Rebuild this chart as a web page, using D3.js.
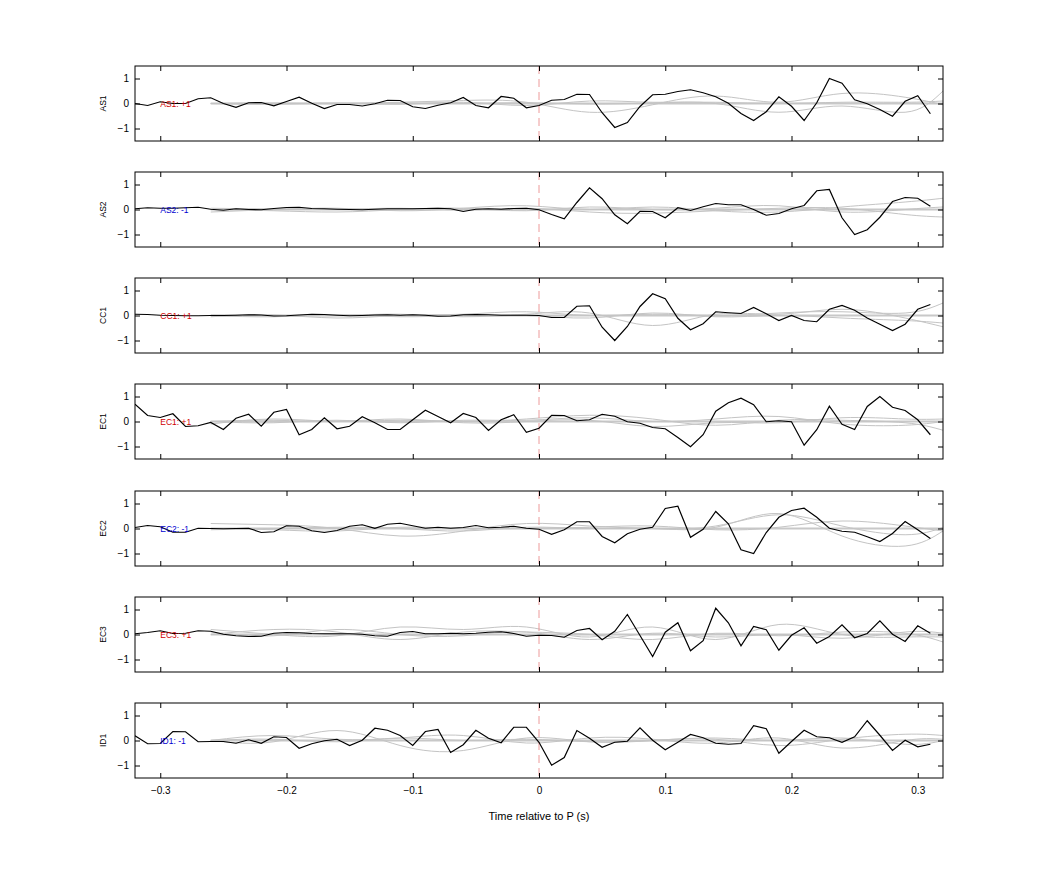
<!DOCTYPE html>
<html><head><meta charset="utf-8">
<script src="https://cdn.jsdelivr.net/npm/d3@7"></script>
<style>body{margin:0;background:#fff}svg text{font-family:"Liberation Sans",Arial,sans-serif}</style>
</head><body><svg id="c" width="1042" height="875"></svg>
<script>
const channels = ["AS1","AS2","CC1","EC1","EC2","EC3","ID1"];
const polarity = ["+1","-1","+1","+1","-1","+1","-1"];
const times = d3.range(64).map(i => +(-0.32 + i*0.01).toFixed(2));
const AS1 = [0,-0.08,0.07,0,0,0.19,0.23,0,-0.15,0.03,0.04,-0.09,0.08,0.25,0.01,-0.2,-0.04,-0.04,-0.1,-0.01,0.13,0.12,-0.13,-0.2,-0.07,0.03,0.24,-0.08,-0.17,0.28,0.21,-0.17,-0.08,0.13,0.16,0.37,0.36,-0.37,-0.96,-0.76,-0.12,0.35,0.37,0.48,0.55,0.43,0.27,0.01,-0.4,-0.68,-0.33,0.27,-0.11,-0.68,0.03,1.0,0.81,0.15,-0.01,-0.24,-0.51,0.09,0.31,-0.41];
const AS2 = [0.03,0.07,0.05,0.05,0.07,0.09,0.01,-0.03,0.03,0,-0.01,0.04,0.08,0.09,0.04,0.03,0.01,0,-0.01,0.01,0.03,0.03,0.03,0.04,0.05,0.03,-0.08,0.01,0.03,0.01,0.04,0.05,-0.01,-0.2,-0.37,0.28,0.87,0.43,-0.21,-0.57,-0.07,-0.08,-0.33,0.07,-0.04,0.11,0.24,0.19,0.19,0,-0.23,-0.16,0.03,0.16,0.75,0.8,-0.33,-1.0,-0.81,-0.31,0.32,0.48,0.45,0.13];
const CC1 = [0.05,0.04,0.01,0,-0.01,-0.01,0,0,0.01,0.03,0.02,-0.02,-0.01,0.02,0.05,0.04,0.01,-0.01,0,0.02,0.03,0.01,0.03,0.01,-0.03,-0.02,0.03,0.04,0.03,0.01,0.01,0.01,0,-0.08,-0.08,0.37,0.39,-0.47,-1.0,-0.44,0.36,0.87,0.67,-0.11,-0.57,-0.33,0.15,0.11,0.08,0.32,0.07,-0.2,0,-0.2,-0.25,0.25,0.4,0.21,-0.1,-0.35,-0.6,-0.35,0.25,0.44];
const EC1 = [0.69,0.24,0.16,0.31,-0.2,-0.17,-0.04,-0.32,0.13,0.29,-0.19,0.37,0.48,-0.53,-0.32,0.15,-0.29,-0.19,0.19,-0.05,-0.32,-0.32,0.07,0.45,0.2,-0.05,0.32,0.16,-0.36,0.07,0.27,-0.43,-0.27,0.25,0.24,0.03,0.07,0.29,0.21,-0.01,-0.07,-0.24,-0.29,-0.64,-1.01,-0.53,0.41,0.75,0.93,0.67,-0.01,0.03,-0.01,-0.95,-0.33,0.61,-0.11,-0.32,0.6,1.0,0.57,0.44,0.07,-0.53];
const EC2 = [0.04,0.12,0.07,-0.15,-0.15,0.01,0,-0.01,0,0.01,-0.16,-0.13,0.11,0.09,-0.09,-0.16,-0.08,0.09,0.15,0.01,0.17,0.21,0.11,0.01,0.05,0.01,0.04,0.12,0.03,0.05,0.09,0.01,-0.03,-0.23,-0.05,0.27,0.27,-0.32,-0.57,-0.21,-0.03,0.05,0.8,0.89,-0.35,-0.03,0.68,0.19,-0.85,-1.0,-0.16,0.45,0.72,0.81,0.45,0.01,-0.11,-0.15,-0.33,-0.52,-0.2,0.28,-0.05,-0.4];
const EC3 = [0.03,0.08,0.15,0.04,0.05,0.15,0.13,0.01,-0.05,-0.08,-0.07,0.05,0.08,0.07,0.04,0.03,0.03,0.03,0.01,-0.05,-0.07,0.08,0.12,0.03,0.03,0.05,0.03,0.05,0.09,0.11,0.04,-0.07,-0.03,-0.04,-0.11,0.16,0.24,-0.21,0.13,0.8,-0.04,-0.88,0.09,0.47,-0.65,-0.25,1.05,0.47,-0.45,0.32,0.19,-0.63,-0.03,0.27,-0.35,-0.08,0.39,-0.13,0.04,0.55,0.01,-0.28,0.35,0.05];
const ID1 = [0.19,-0.13,-0.12,0.36,0.35,-0.05,-0.04,-0.04,-0.11,0.03,-0.11,0.15,0.12,-0.31,-0.13,-0.01,0.05,-0.2,0.01,0.49,0.41,0.2,-0.2,0.36,0.44,-0.48,-0.17,0.41,0.09,-0.09,0.53,0.53,-0.07,-0.99,-0.68,0.4,0.09,-0.27,-0.07,-0.03,0.51,0.01,-0.37,-0.07,0.24,0.11,-0.11,-0.15,-0.12,0.59,0.47,-0.51,-0.04,0.41,0.15,0.11,-0.07,0.15,0.79,0.21,-0.4,0.01,-0.25,-0.15];
const traces = [AS1,AS2,CC1,EC1,EC2,EC3,ID1];
// faint grey reference curves, sampled every 0.05 s from -0.26 to 0.32
const greyTimes = [-0.26,-0.21,-0.16,-0.11,-0.06,-0.01,0.04,0.09,0.14,0.19,0.24,0.29,0.32];
const greys = [
 [[0,0.02,0,0.05,0.12,0.05,-0.35,-0.05,0.3,0.05,0.4,0.25,-0.05],[0,-0.03,0.02,-0.03,0.05,-0.08,0.1,0.05,0,-0.35,-0.1,-0.35,0.5],[0,0,-0.01,0.02,0,0.03,-0.02,0.02,0.05,0,0.05,0.05,0.1]],
 [[-0.1,0,0.05,-0.05,0.05,0.15,0,0.1,-0.05,-0.1,0.1,0.3,0.45],[0,-0.05,-0.1,0,0.05,-0.05,0.1,0,0.05,0.15,-0.1,0,0.1],[0.05,0.02,0,0.05,-0.02,0.05,-0.1,-0.15,-0.05,0.05,0.05,-0.2,-0.3]],
 [[-0.05,0.02,-0.1,0,0.05,0.15,0,0.05,0,0.1,0.15,0.1,0.5],[0,-0.05,0.03,-0.05,0,0.05,0.1,-0.4,0.05,0.05,0.25,-0.1,-0.45],[0.02,0,0,0.05,-0.05,0,-0.1,0.1,-0.05,0,-0.1,-0.2,-0.3]],
 [[-0.1,0.1,0,0.05,0,0.1,0.25,0.1,-0.15,0.05,0.05,-0.05,-0.35],[0,-0.05,0.05,-0.05,0.05,0.05,0.15,0,0.1,0.2,-0.1,-0.15,0],[0,0.05,0,0.1,-0.05,0,0.05,-0.2,-0.05,-0.05,0.15,0.1,0.1]],
 [[0.2,0.15,0,-0.3,-0.1,0.2,0.1,0,0.1,0.55,0.1,-0.25,0.05],[0,-0.05,-0.1,0.05,0,0,0.05,0.1,-0.05,0.05,0.3,0.1,-0.1],[-0.05,0,0.05,0,-0.1,0.05,0,0,0.05,0.6,-0.3,-0.7,-0.1]],
 [[0.2,0,-0.05,0.3,0.2,0.3,-0.1,0.3,-0.2,0.4,0,-0.1,-0.1],[0,0.2,0.1,-0.2,0.1,0.1,0,-0.2,0.05,-0.05,0.1,0.05,-0.3],[0.1,-0.05,0.2,0,-0.05,0.1,-0.2,0.05,-0.1,0,-0.15,0.1,0.05]],
 [[0,-0.05,0.4,-0.2,-0.4,0.1,-0.05,0,0.05,-0.2,0.05,0.25,0.2],[0,0.2,0.05,0.1,0.2,-0.1,0.1,0.05,-0.1,0.1,-0.3,0,0.05],[0,0.05,-0.05,0.1,0,0.05,-0.05,0,0.1,0,0.1,-0.15,0]]
];
const xTicks = [-0.3,-0.2,-0.1,0,0.1,0.2,0.3];
const yTicks = [-1,0,1];

const svg = d3.select("#c");
const L=135,R=943,H=75;
const tops=[66,172,278,384,491,597,703];
const x = d3.scaleLinear().domain([-0.32,0.32]).range([L,R]);
channels.forEach((ch,k)=>{
  const g = svg.append("g").attr("transform",`translate(0,${tops[k]})`);
  const y = d3.scaleLinear().domain([-1.5,1.5]).range([H,0]);
  g.append("defs").append("clipPath").attr("id","cp"+k).append("rect").attr("x",L).attr("y",0).attr("width",R-L).attr("height",H);
  const pg = g.append("g").attr("clip-path",`url(#cp${k})`);
  pg.append("line").attr("x1",x(-0.26)).attr("x2",R).attr("y1",y(0)).attr("y2",y(0)).attr("stroke","#c8c8c8").attr("stroke-width",2);
  const gl = d3.line().x(d=>x(d[0])).y(d=>y(d[1])).curve(d3.curveNatural);
  greys[k].forEach(s=>{
    pg.append("path").attr("d",gl(greyTimes.map((t,i)=>[t,s[i]]))).attr("fill","none").attr("stroke","#c4c4c4").attr("stroke-width",1);
  });
  pg.append("line").attr("x1",x(0)).attr("x2",x(0)).attr("y1",0).attr("y2",H).attr("stroke","#e88080").attr("stroke-dasharray","8,5").attr("stroke-width",0.8);
  const bl = d3.line().x((d,i)=>x(times[i])).y(d=>y(d));
  pg.append("path").attr("d",bl(traces[k])).attr("fill","none").attr("stroke","#000").attr("stroke-width",1.2);
  g.append("text").attr("x",x(-0.3)).attr("y",y(0)+3).attr("font-size",8.5).attr("fill",polarity[k]==="+1"?"#d00000":"#0000d0").text(`${ch}: ${polarity[k]}`);
  g.append("g").attr("transform",`translate(0,${H})`).call(d3.axisBottom(x).tickValues(xTicks).tickSizeInner(-5).tickSizeOuter(0).tickFormat(k===6?d3.format(""):"")).call(a=>{a.select(".domain").remove();a.selectAll("text").attr("dy","1.3em").attr("font-size",10)});
  g.append("g").call(d3.axisTop(x).tickValues(xTicks).tickSizeInner(-5).tickSizeOuter(0).tickFormat("")).call(a=>a.select(".domain").remove());
  g.append("g").attr("transform",`translate(${L},0)`).call(d3.axisLeft(y).tickValues(yTicks).tickSizeInner(-5).tickSizeOuter(0).tickFormat(d3.format(""))).call(a=>{a.select(".domain").remove();a.selectAll("text").attr("dx","-0.3em").attr("font-size",10)});
  g.append("g").attr("transform",`translate(${R},0)`).call(d3.axisRight(y).tickValues(yTicks).tickSizeInner(-5).tickSizeOuter(0).tickFormat("")).call(a=>a.select(".domain").remove());
  g.append("rect").attr("x",L).attr("y",0).attr("width",R-L).attr("height",H).attr("fill","none").attr("stroke","#000").attr("stroke-width",1);
  g.append("text").attr("transform",`translate(106,${H/2}) rotate(-90)`).attr("text-anchor","middle").attr("font-size",8.5).text(ch);
});
svg.append("text").attr("x",(L+R)/2).attr("y",820).attr("text-anchor","middle").attr("font-size",11).text("Time relative to P (s)");
</script></body></html>
